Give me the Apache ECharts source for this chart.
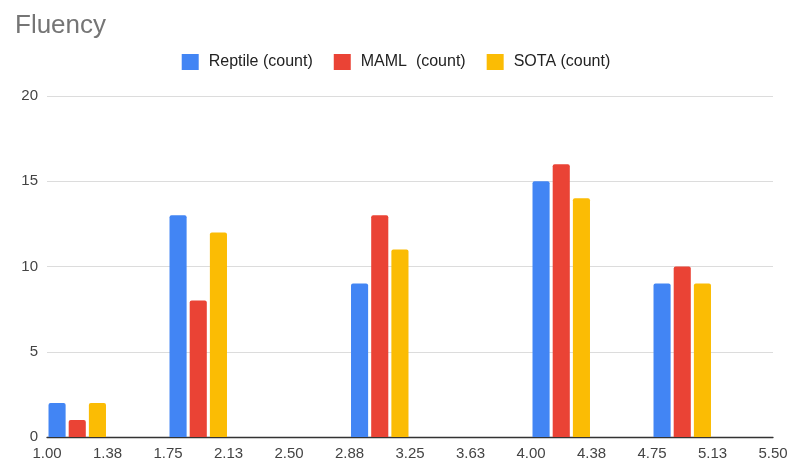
<!DOCTYPE html>
<html>
<head>
<meta charset="utf-8">
<script src="https://cdn.jsdelivr.net/npm/echarts@6/dist/echarts.min.js"></script>
<style>
  html, body { margin: 0; padding: 0; background: #fff; }
  #chart { width: 792px; height: 463px; }
</style>
</head>
<body>
<div id="chart"></div>
<script>
// Histogram bins: lower edge of bin i is binEdges[i]
const binEdges = ['1.00', '1.38', '1.75', '2.13', '2.50', '2.88', '3.25', '3.63', '4.00', '4.38', '4.75', '5.13', '5.50'];
const binNames = binEdges.slice(0, 12);

// Counts per bin (null = empty bin)
const reptileCounts = [2, null, 13, null, null, 9, null, null, 15, null, 9, null];
const mamlCounts    = [1, null, 8, null, null, 13, null, null, 16, null, 10, null];
const sotaCounts    = [2, null, 12, null, null, 11, null, null, 14, null, 9, null];

const yTicks = [0, 5, 10, 15, 20];

const FONT = '"Liberation Sans", Arial, sans-serif';

const chart = echarts.init(document.getElementById('chart'), null, { renderer: 'canvas' });

function barSeries(name, data, color) {
  return {
    name: name,
    type: 'bar',
    xAxisIndex: 0,
    data: data,
    barGap: '18%',
    barCategoryGap: '5%',
    itemStyle: { color: color, borderRadius: [2, 2, 0, 0] },
    emphasis: { disabled: true }
  };
}

chart.setOption({
  animation: false,
  textStyle: { fontFamily: FONT },
  title: {
    text: 'Fluency',
    left: 10,
    top: 8,
    textStyle: { fontFamily: FONT, fontSize: 26, fontWeight: 'normal', color: '#757575' }
  },
  legend: {
    top: 49,
    left: 'center',
    icon: 'rect',
    itemWidth: 17,
    itemHeight: 16,
    itemGap: 21,
    textStyle: { fontFamily: FONT, fontSize: 16, color: '#222', padding: [0, 0, 0, 5] },
    data: ['Reptile (count)', 'MAML  (count)', 'SOTA (count)']
  },
  grid: { left: 47, right: 19, top: 96, bottom: 26, containLabel: false },
  xAxis: [
    {
      type: 'category',
      data: binNames,
      boundaryGap: true,
      axisLine: { show: true, lineStyle: { color: '#333', width: 1.3 } },
      axisTick: { show: false },
      axisLabel: { show: false },
      splitLine: { show: false }
    },
    {
      type: 'value',
      position: 'bottom',
      min: 0,
      max: 12,
      interval: 1,
      axisLine: { show: false },
      axisTick: { show: false },
      splitLine: { show: false },
      axisLabel: {
        show: true,
        margin: 9,
        fontFamily: FONT,
        fontSize: 15,
        color: '#444',
        formatter: function (v) { return binEdges[Math.round(v)]; }
      }
    }
  ],
  yAxis: {
    type: 'value',
    min: yTicks[0],
    max: yTicks[yTicks.length - 1],
    interval: 5,
    axisLine: { show: false },
    axisTick: { show: false },
    axisLabel: { margin: 9, fontFamily: FONT, fontSize: 15, color: '#444' },
    splitLine: { lineStyle: { color: '#dcdcdc', width: 1 } }
  },
  series: [
    barSeries('Reptile (count)', reptileCounts, '#4285F4'),
    barSeries('MAML  (count)', mamlCounts, '#EA4335'),
    barSeries('SOTA (count)', sotaCounts, '#FBBC04'),
    // invisible series that keeps the label axis active
    { type: 'line', xAxisIndex: 1, data: [], silent: true }
  ]
});
</script>
</body>
</html>
